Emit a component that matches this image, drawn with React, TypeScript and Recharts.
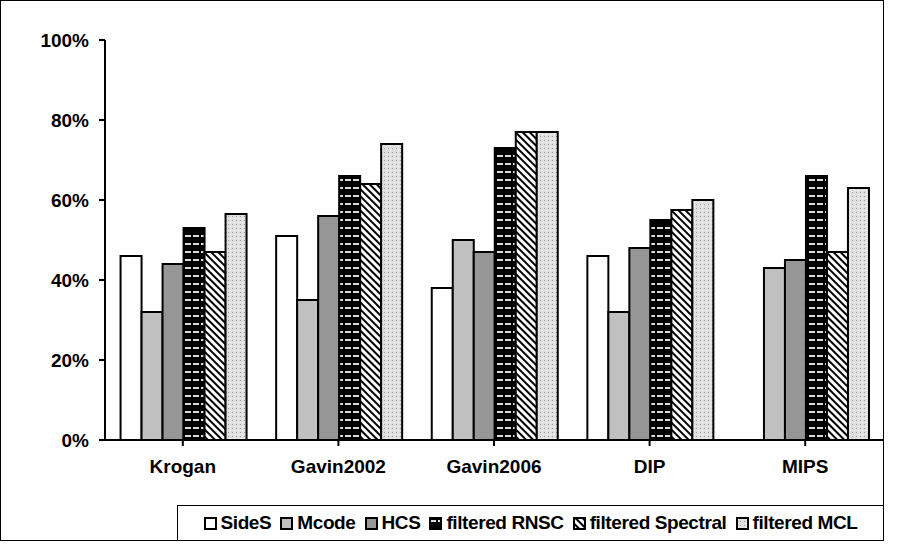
import React from 'react';
import { BarChart, Bar, XAxis, YAxis } from 'recharts';

const categories = ['Krogan', 'Gavin2002', 'Gavin2006', 'DIP', 'MIPS'];
const sideS = [46, 51, 38, 46, 0];
const mcode = [32, 35, 50, 32, 43];
const hcs = [44, 56, 47, 48, 45];
const rnsc = [53, 66, 73, 55, 66];
const spectral = [47, 64, 77, 57.5, 47];
const mcl = [56.5, 74, 77, 60, 63];
const yTicks = [0, 20, 40, 60, 80, 100];

const data = categories.map((name, i) => ({
  name, sideS: sideS[i], mcode: mcode[i], hcs: hcs[i], rnsc: rnsc[i], spectral: spectral[i], mcl: mcl[i],
}));

const series = [
  { key: 'sideS', label: 'SideS', fill: '#ffffff' },
  { key: 'mcode', label: 'Mcode', fill: '#c0c0c0' },
  { key: 'hcs', label: 'HCS', fill: '#969696' },
  { key: 'rnsc', label: 'filtered RNSC', fill: 'url(#pRnsc)' },
  { key: 'spectral', label: 'filtered Spectral', fill: 'url(#pSpec)' },
  { key: 'mcl', label: 'filtered MCL', fill: 'url(#pMcl)' },
];

const font = 'Arial, "Liberation Sans", sans-serif';
const tickStyle = { fontSize: 19, fontWeight: 700, fill: '#000', fontFamily: font };

export default function App() {
  return (
    <div style={{ position: 'fixed', left: 0, top: 0, width: 905, height: 555, background: '#fff', fontFamily: font }}>
      <div style={{ position: 'absolute', left: 0, top: 0 }}>
        <BarChart width={900} height={500} data={data} margin={{ top: 40, right: 17, left: 40, bottom: 30 }}
          barCategoryGap="10%" barGap={0}>
          <defs>
            <pattern id="pRnsc" width="8" height="8" patternUnits="userSpaceOnUse">
              <rect width="8" height="8" fill="#000" />
              <rect x="1" y="3" width="6" height="2" fill="#ddd" />
            </pattern>
            <pattern id="pSpec" width="5" height="5" patternUnits="userSpaceOnUse" patternTransform="rotate(-45)">
              <rect width="5" height="5" fill="#fff" />
              <rect width="2" height="5" fill="#000" />
            </pattern>
            <pattern id="pMcl" width="4" height="4" patternUnits="userSpaceOnUse">
              <rect width="4" height="4" fill="#e0e0e0" />
              <rect x="0" y="0" width="1" height="1" fill="#999" />
              <rect x="2" y="2" width="1" height="1" fill="#fff" />
            </pattern>
          </defs>
          <XAxis dataKey="name" stroke="#000" strokeWidth={2} tick={tickStyle} tickLine={{ stroke: '#000' }} tickSize={6} tickMargin={14} interval={0} />
          <YAxis domain={[0, 100]} ticks={yTicks} stroke="#000" strokeWidth={2} tick={tickStyle}
            tickFormatter={(v) => `${v}%`} tickSize={6} tickMargin={10} width={65} />
          {series.map((s) => (
            <Bar key={s.key} dataKey={s.key} fill={s.fill} stroke="#000" strokeWidth={2} isAnimationActive={false} />
          ))}
        </BarChart>
      </div>
      <div style={{ position: 'absolute', left: 0, top: 0, width: 884, height: 541, border: '1px solid #000', boxSizing: 'border-box', pointerEvents: 'none' }} />
      <div style={{ position: 'absolute', left: 177, top: 505, height: 36, width: 707, boxSizing: 'border-box', border: '1px solid #000',
        display: 'flex', alignItems: 'center', justifyContent: 'center', gap: 9, fontSize: 19, fontWeight: 700, letterSpacing: -0.4 }}>
        {series.map((s) => (
          <span key={s.key} style={{ display: 'flex', alignItems: 'center', gap: 4 }}>
            <svg width="13" height="13"><rect x="1" y="1" width="11" height="11" fill={s.fill} stroke="#000" strokeWidth="2" /></svg>
            {s.label}
          </span>
        ))}
      </div>
    </div>
  );
}
